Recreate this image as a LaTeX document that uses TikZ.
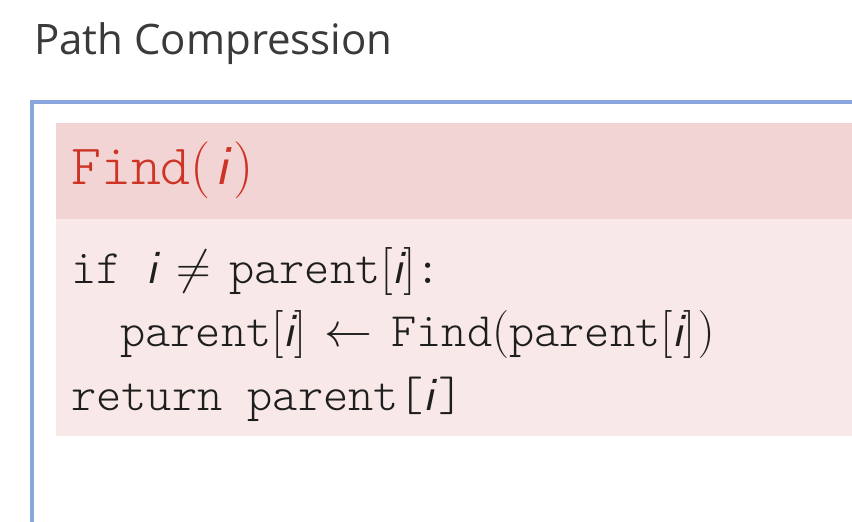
\documentclass[tikz,border=0pt]{standalone}
\usepackage{fix-cm}
\usepackage{fontspec}
\setmonofont{lmmonolt10-regular.otf}
\newfontfamily\titlefont{Open Sans}
\definecolor{framblue}{RGB}{138,166,220}
\definecolor{headpink}{RGB}{243,212,212}
\definecolor{bodypink}{RGB}{249,232,232}
\definecolor{findred}{RGB}{205,52,38}
\definecolor{titlegray}{RGB}{58,58,58}
\definecolor{codeblack}{RGB}{30,30,30}
\newcommand{\vi}{\textsf{\itshape i}}
\thickmuskip=7mu plus 5mu
\begin{document}
\begin{tikzpicture}[x=1pt, y=-1pt,
    code/.style={anchor=base west, inner sep=0pt, text=codeblack, font=\fontsize{48}{56}\selectfont}]
    \useasboundingbox (0,0) rectangle (852,522);
    % frame and block
    \fill[headpink] (56,123) rectangle (852,219);
    \fill[bodypink] (56,219) rectangle (852,436);
    \draw[framblue, line width=4pt] (852,102) -- (32,102) -- (32,522);
    \node[anchor=base west, inner sep=0pt, text=titlegray, font=\titlefont\fontsize{42}{50}\selectfont] (title) at (34,54) {Path Compression};
    \node[code, text=findred, font=\fontsize{57}{64}\selectfont] (head) at (71,184) {$\texttt{Find}(\mkern1.5mu\vi\mkern1.5mu)$};
    \node[code] (ifline) at (71,283) {\texttt{if }$\vi\neq\texttt{parent}[\vi]$\texttt{:}};
    \node[code] (setline) at (120,346) {$\texttt{parent}[\vi]\leftarrow\texttt{Find}(\texttt{parent}[\vi]\mkern1mu)$};
    \node[code] (retline) at (71,410) {\texttt{return parent[}\vi\texttt{]}};
\end{tikzpicture}
\end{document}
